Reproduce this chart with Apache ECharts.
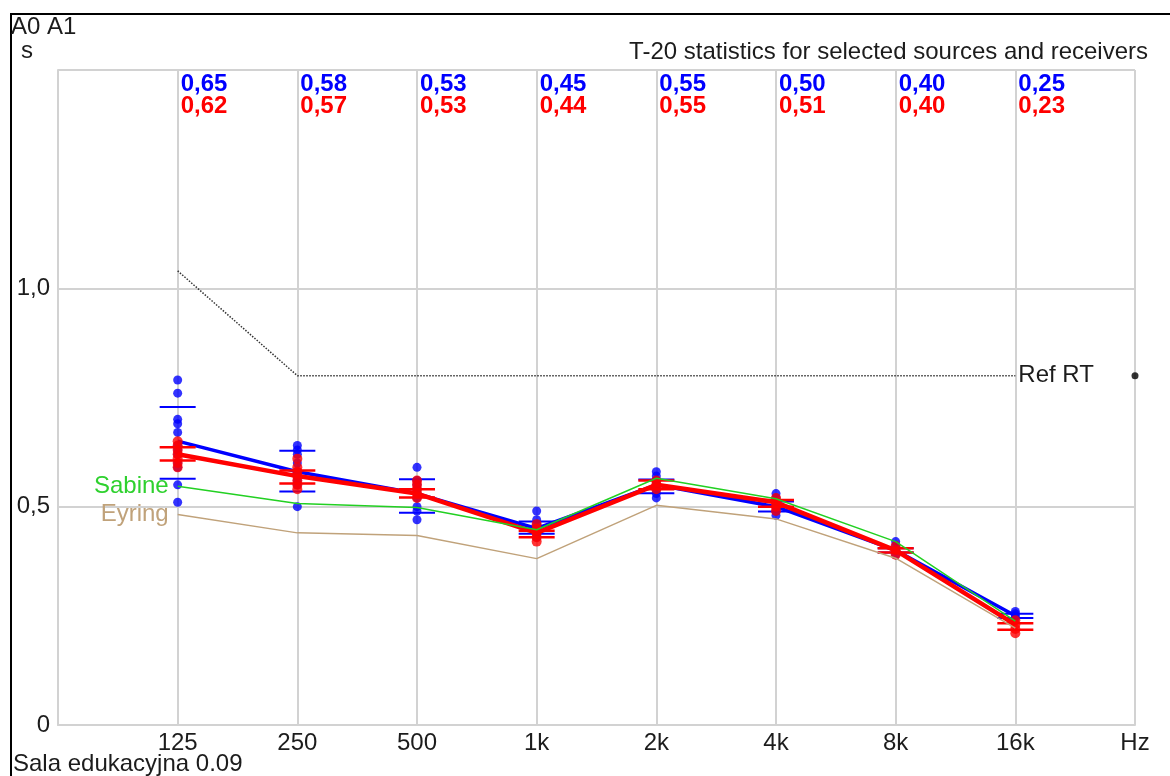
<!DOCTYPE html>
<html>
<head>
<meta charset="utf-8">
<script src="https://cdn.jsdelivr.net/npm/echarts@6/dist/echarts.min.js"></script>
<style>
  html, body { margin: 0; padding: 0; background: #fff; }
  #chart { width: 1170px; height: 776px; }
</style>
</head>
<body>
<div id="chart"></div>
<script>
// Octave bands and axis text
const bandLabels = ['125', '250', '500', '1k', '2k', '4k', '8k', '16k'];
const axisLabels = [''].concat(bandLabels, ['Hz']);

// Mean T-20 per band (s) for the two sources
const meanA0 = [0.65, 0.58, 0.53, 0.45, 0.55, 0.50, 0.40, 0.25];
const meanA1 = [0.62, 0.57, 0.53, 0.44, 0.55, 0.51, 0.40, 0.23];

// Spread caps (upper / lower) per band
const capHiA0 = [0.728, 0.628, 0.563, 0.466, 0.562, 0.512, 0.405, 0.255];
const capLoA0 = [0.564, 0.535, 0.486, 0.438, 0.531, 0.489, 0.395, 0.245];
const capHiA1 = [0.636, 0.583, 0.540, 0.445, 0.560, 0.515, 0.405, 0.233];
const capLoA1 = [0.606, 0.553, 0.521, 0.430, 0.540, 0.500, 0.395, 0.218];

// Individual receiver results per band
const pointsA0 = [
  [0.79, 0.76, 0.70, 0.69, 0.67, 0.64, 0.63, 0.62, 0.60, 0.59, 0.55, 0.51],
  [0.64, 0.63, 0.62, 0.60, 0.58, 0.57, 0.56, 0.55, 0.50],
  [0.59, 0.56, 0.55, 0.54, 0.53, 0.52, 0.50, 0.49, 0.47],
  [0.49, 0.47, 0.46, 0.45, 0.44, 0.43],
  [0.58, 0.57, 0.56, 0.55, 0.54, 0.53, 0.52],
  [0.53, 0.52, 0.51, 0.50, 0.49, 0.48],
  [0.42, 0.41, 0.40, 0.39],
  [0.26, 0.255, 0.25, 0.245]
];
const pointsA1 = [
  [0.65, 0.64, 0.63, 0.62, 0.61, 0.60, 0.59],
  [0.61, 0.59, 0.58, 0.57, 0.56, 0.55, 0.54],
  [0.56, 0.55, 0.54, 0.53, 0.52],
  [0.46, 0.45, 0.44, 0.43, 0.42],
  [0.56, 0.55, 0.54],
  [0.52, 0.51, 0.50, 0.49],
  [0.41, 0.40, 0.39],
  [0.24, 0.23, 0.22, 0.21]
];

// Predicted reverberation times and reference curve
const sabine = [0.547, 0.507, 0.498, 0.447, 0.565, 0.518, 0.420, 0.238];
const eyring = [0.482, 0.440, 0.434, 0.381, 0.503, 0.472, 0.382, 0.222];
const refRT = [1.04, 0.80, 0.80, 0.80, 0.80, 0.80, 0.80, 0.80];
const refRTMarker = 0.80;

const FONT = '"Liberation Sans", Arial, sans-serif';
const TEXT = '#1c1c1c';
const GRID = '#d2d2d2';
const BLUE = '#0000ff';
const RED = '#ff0000';
const GREEN = '#22d022';
const TAN = '#c0a27a';

const toXY = arr => arr.map((v, i) => [i + 1, v]);
const flatPoints = groups => {
  const out = [];
  groups.forEach((g, i) => g.forEach(v => out.push([i + 1, v])));
  return out;
};
const comma = v => v.toFixed(2).replace('.', ',');

function capRenderer(color, width) {
  return function (params, api) {
    const p = api.coord([api.value(0), api.value(1)]);
    return {
      type: 'line',
      shape: { x1: p[0] - 18, y1: p[1], x2: p[0] + 18, y2: p[1] },
      style: { stroke: color, lineWidth: width }
    };
  };
}

function valueLabelRenderer(color, offsetY) {
  return function (params, api) {
    const p = api.coord([api.value(0), api.value(1)]);
    return {
      type: 'text',
      x: p[0] + 3,
      y: params.coordSys.y + offsetY,
      style: {
        text: comma(api.value(1)),
        fill: color,
        font: 'bold 24px ' + FONT,
        align: 'left',
        verticalAlign: 'middle'
      }
    };
  };
}

// Text placed beside a curve point, drawn through the axes
function sideLabelRenderer(text, color, side, gap) {
  return function (params, api) {
    const p = api.coord([api.value(0), api.value(1)]);
    return {
      type: 'text',
      x: side === 'left' ? p[0] - gap : p[0] + gap,
      y: p[1],
      style: {
        text: text, fill: color, font: '24px ' + FONT,
        align: side === 'left' ? 'right' : 'left',
        verticalAlign: 'middle'
      }
    };
  };
}

const capsA0 = toXY(capHiA0).concat(toXY(capLoA0));
const capsA1 = toXY(capHiA1).concat(toXY(capLoA1));

const chart = echarts.init(document.getElementById('chart'), null, { renderer: 'canvas' });

chart.setOption({
  animation: false,
  backgroundColor: '#ffffff',
  grid: { left: 58, right: 35, top: 70, bottom: 51 },
  xAxis: {
    type: 'value', min: 0, max: 9, interval: 1,
    axisLine: { show: true, lineStyle: { color: GRID, width: 2 } },
    axisTick: { show: false },
    splitLine: { show: true, lineStyle: { color: GRID, width: 2 } },
    axisLabel: {
      show: true, margin: 6, color: TEXT, fontSize: 24, fontFamily: FONT,
      formatter: v => axisLabels[Math.round(v)] || ''
    }
  },
  yAxis: {
    type: 'value', min: 0, max: 1.5, interval: 0.5,
    axisLine: { show: true, lineStyle: { color: GRID, width: 2 } },
    axisTick: { show: false },
    splitLine: { show: true, lineStyle: { color: GRID, width: 2 } },
    axisLabel: {
      margin: 8, color: TEXT, fontSize: 24, fontFamily: FONT,
      formatter: v => v === 0 ? '0' : (v >= 1.5 ? '' : v.toFixed(1).replace('.', ','))
    }
  },
  graphic: [
    { type: 'line', shape: { x1: 10, y1: 14, x2: 1170, y2: 14 }, style: { stroke: '#000', lineWidth: 2 } },
    { type: 'line', shape: { x1: 11, y1: 13, x2: 11, y2: 776 }, style: { stroke: '#000', lineWidth: 2 } },
    { type: 'text', left: 11, top: 15, style: { text: 'A0 A1', fill: TEXT, font: '24px ' + FONT } },
    { type: 'text', left: 21, top: 39, style: { text: 's', fill: TEXT, font: '24px ' + FONT } },
    { type: 'text', right: 22, top: 40, style: { text: 'T-20 statistics for selected sources and receivers', fill: TEXT, font: '24px ' + FONT } },
    { type: 'text', left: 13, top: 752, style: { text: 'Sala edukacyjna 0.09', fill: TEXT, font: '24px ' + FONT } }
  ],
  series: [
    {
      name: 'Ref RT', type: 'line', data: toXY(refRT), symbol: 'none',
      lineStyle: { color: '#333', width: 1.5, type: 'dotted' }, z: 2
    },
    {
      name: 'Ref RT label', type: 'custom', data: toXY(refRT).slice(-1),
      renderItem: sideLabelRenderer('Ref RT', TEXT, 'right', 3), z: 2
    },
    {
      name: 'Ref RT marker', type: 'scatter', data: [[9, refRTMarker]],
      symbol: 'circle', symbolSize: 7, itemStyle: { color: '#000' }, z: 2
    },
    {
      name: 'A0 points', type: 'scatter', data: flatPoints(pointsA0),
      symbol: 'circle', symbolSize: 9, itemStyle: { color: BLUE }, z: 3
    },
    {
      name: 'A0 mean', type: 'line', data: toXY(meanA0), symbol: 'none',
      lineStyle: { color: BLUE, width: 3.5 }, z: 3
    },
    {
      name: 'A0 caps', type: 'custom', data: capsA0, renderItem: capRenderer(BLUE, 2), z: 3
    },
    {
      name: 'A1 points', type: 'scatter', data: flatPoints(pointsA1),
      symbol: 'circle', symbolSize: 10, itemStyle: { color: RED }, z: 4
    },
    {
      name: 'A1 mean', type: 'line', data: toXY(meanA1), symbol: 'none',
      lineStyle: { color: RED, width: 4.5 }, z: 4
    },
    {
      name: 'A1 caps', type: 'custom', data: capsA1, renderItem: capRenderer(RED, 2.5), z: 4
    },
    {
      name: 'Sabine', type: 'line', data: toXY(sabine), symbol: 'none',
      lineStyle: { color: GREEN, width: 1.5 }, z: 5
    },
    {
      name: 'Eyring', type: 'line', data: toXY(eyring), symbol: 'none',
      lineStyle: { color: TAN, width: 1.5 }, z: 5
    },
    {
      name: 'Sabine label', type: 'custom', data: toXY(sabine).slice(0, 1),
      renderItem: sideLabelRenderer('Sabine', '#2ed12e', 'left', 9), z: 5
    },
    {
      name: 'Eyring label', type: 'custom', data: toXY(eyring).slice(0, 1),
      renderItem: sideLabelRenderer('Eyring', TAN, 'left', 9), z: 5
    },
    {
      name: 'A0 values', type: 'custom', data: toXY(meanA0),
      renderItem: valueLabelRenderer(BLUE, 14), z: 6
    },
    {
      name: 'A1 values', type: 'custom', data: toXY(meanA1),
      renderItem: valueLabelRenderer(RED, 36), z: 6
    }
  ]
});
</script>
</body>
</html>
